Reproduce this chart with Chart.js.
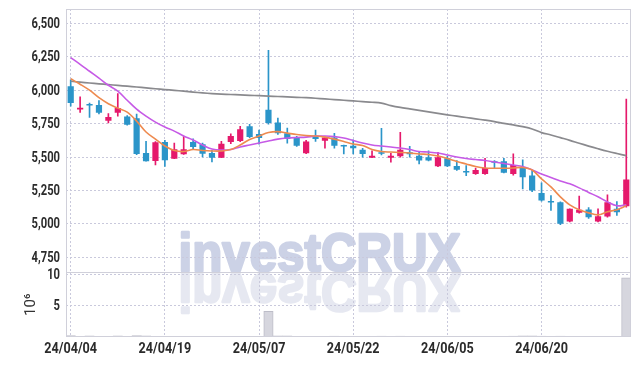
<!DOCTYPE html>
<html>
<head>
<meta charset="utf-8">
<title>investCRUX candle chart</title>
<script src="https://cdn.jsdelivr.net/npm/chart.js@4.4.1/dist/chart.umd.min.js"></script>
<style>
  html, body { margin: 0; padding: 0; background: #fff; }
  #wrap { width: 639px; height: 366px; }
</style>
</head>
<body>
<div id="wrap"><canvas id="stockChart" width="639" height="366"></canvas></div>
<script>
// trading days, 24/04/04 .. 24/07/03
const dates = [
  "24/04/04", "24/04/05", "24/04/08", "24/04/09", "24/04/11", "24/04/12", "24/04/15", "24/04/16", "24/04/17", "24/04/18",
  "24/04/19", "24/04/22", "24/04/23", "24/04/24", "24/04/25", "24/04/26", "24/04/29", "24/04/30", "24/05/02", "24/05/03",
  "24/05/07", "24/05/08", "24/05/09", "24/05/10", "24/05/13", "24/05/14", "24/05/16", "24/05/17", "24/05/20", "24/05/21",
  "24/05/22", "24/05/23", "24/05/24", "24/05/27", "24/05/28", "24/05/29", "24/05/30", "24/05/31", "24/06/03", "24/06/04",
  "24/06/05", "24/06/07", "24/06/10", "24/06/11", "24/06/12", "24/06/13", "24/06/14", "24/06/17", "24/06/18", "24/06/19",
  "24/06/20", "24/06/21", "24/06/24", "24/06/25", "24/06/26", "24/06/27", "24/06/28", "24/07/01", "24/07/02", "24/07/03",
];

const opens = [
  6030, 5856, 5890, 5890, 5771, 5831, 5804, 5791, 5530, 5470,
  5612, 5487, 5520, 5612, 5595, 5530, 5495, 5612, 5620, 5731,
  5672, 5853, 5759, 5677, 5647, 5528, 5659, 5622, 5647, 5582,
  5585, 5555, 5495, 5530, 5495, 5505, 5535, 5510, 5498, 5431,
  5490, 5433, 5388, 5373, 5373, 5462, 5468, 5373, 5418, 5361,
  5231, 5165, 5162, 5017, 5082, 5107, 5017, 5055, 5112, 5132,
];
const highs = [
  6077, 5950, 5903, 5923, 5826, 5975, 5810, 5821, 5617, 5615,
  5625, 5605, 5655, 5637, 5605, 5550, 5617, 5674, 5729, 5744,
  5702, 6298, 5791, 5717, 5655, 5625, 5702, 5650, 5677, 5590,
  5629, 5565, 5547, 5714, 5528, 5684, 5580, 5540, 5547, 5535,
  5505, 5473, 5436, 5418, 5490, 5473, 5490, 5523, 5478, 5403,
  5306, 5212, 5165, 5112, 5207, 5122, 5112, 5217, 5167, 5933,
];
const lows = [
  5881, 5834, 5796, 5823, 5756, 5805, 5738, 5517, 5468, 5440,
  5430, 5487, 5520, 5558, 5500, 5463, 5495, 5600, 5615, 5645,
  5597, 5746, 5670, 5604, 5580, 5525, 5617, 5567, 5567, 5523,
  5523, 5498, 5495, 5515, 5461, 5498, 5498, 5448, 5470, 5428,
  5428, 5400, 5361, 5370, 5370, 5418, 5380, 5365, 5261, 5240,
  5170, 5100, 4993, 5015, 5080, 5040, 5015, 5050, 5062, 5125,
];
const closes = [
  5905, 5868, 5885, 5831, 5799, 5866, 5741, 5523, 5468, 5610,
  5476, 5558, 5558, 5575, 5525, 5495, 5600, 5657, 5707, 5649,
  5642, 5754, 5677, 5634, 5585, 5617, 5634, 5647, 5585, 5578,
  5565, 5523, 5510, 5525, 5510, 5555, 5520, 5473, 5473, 5498,
  5431, 5405, 5384, 5403, 5418, 5457, 5383, 5440, 5349, 5249,
  5174, 5160, 5000, 5112, 5105, 5050, 5057, 5162, 5087, 5331,
];

// volume, millions of shares
const volumes = [
  0.22, 0.02, 0.18, 0.03, 0.02, 0.2, 0.04, 0.22, 0.18, 0.04,
  0.03, 0.03, 0.02, 0.02, 0.03, 0.02, 0.03, 0.02, 0.03, 0.04,
  0.06, 4.1, 0.2, 0.18, 0.04, 0.03, 0.03, 0.02, 0.16, 0.03,
  0.02, 0.02, 0.03, 0.15, 0.03, 0.15, 0.02, 0.02, 0.03, 0.02,
  0.03, 0.02, 0.02, 0.03, 0.03, 0.02, 0.04, 0.16, 0.2, 0.18,
  0.14, 0.03, 0.16, 0.03, 0.02, 0.03, 0.02, 0.04, 0.03, 9.45,
];

// moving averages
const maShort = [
  6086, 6045, 6000, 5944, 5899, 5866, 5836, 5769, 5687, 5634,
  5582, 5549, 5541, 5556, 5549, 5545, 5545, 5556, 5590, 5631,
  5657, 5683, 5690, 5679, 5668, 5661, 5657, 5649, 5634, 5616,
  5597, 5586, 5556, 5541, 5537, 5534, 5530, 5523, 5519, 5508,
  5489, 5467, 5448, 5429, 5418, 5416, 5416, 5418, 5422, 5403,
  5336, 5276, 5202, 5142, 5105, 5082, 5067, 5090, 5105, 5135,
];
const maMid = [
  6244, 6194, 6142, 6090, 6037, 5993, 5925, 5858, 5806, 5761,
  5724, 5694, 5657, 5627, 5590, 5560, 5552, 5556, 5575, 5590,
  5605, 5620, 5634, 5642, 5646, 5649, 5657, 5657, 5653, 5642,
  5623, 5605, 5590, 5582, 5575, 5567, 5556, 5541, 5537, 5530,
  5515, 5500, 5489, 5481, 5474, 5463, 5452, 5440, 5429, 5403,
  5373, 5347, 5321, 5299, 5269, 5235, 5202, 5164, 5135, 5142,
];
const maLong = [
  6067, 6060, 6054, 6048, 6042, 6036, 6030, 6024, 6018, 6011,
  6005, 5999, 5993, 5986, 5980, 5975, 5971, 5968, 5965, 5962,
  5959, 5956, 5953, 5950, 5947, 5944, 5940, 5935, 5930, 5925,
  5920, 5915, 5910, 5903, 5885, 5871, 5860, 5849, 5838, 5827,
  5816, 5806, 5796, 5786, 5776, 5765, 5752, 5740, 5727, 5710,
  5683, 5665, 5645, 5625, 5603, 5582, 5562, 5543, 5526, 5510,
];

const priceTicks = [4750, 5000, 5250, 5500, 5750, 6000, 6250, 6500];
const volTicks = [5, 10];

const UP = "#e5196b";
const DOWN = "#2b95c9";
const gridColor = "#c9c9dc";
const labelFont = "bold 14px Roboto, 'Liberation Sans', sans-serif";

const candleColors = opens.map((o, i) => (closes[i] > o ? UP : DOWN));

// narrow labels: draw text squeezed horizontally
function squeezedText(ctx, txt, x, y, sx, align) {
  ctx.save();
  ctx.translate(x, y);
  ctx.scale(sx, 1);
  ctx.textAlign = align;
  ctx.fillText(txt, 0, 0);
  ctx.restore();
}

// watermark, panel separator, frame and axis labels
const paneDecor = {
  id: "paneDecor",
  beforeDraw(chart) {
    const { ctx } = chart;
    const base = chart.scales.y.bottom;
    ctx.save();
    ctx.fillStyle = "#fff";
    ctx.fillRect(0, 0, chart.width, chart.height);
    ctx.font = "bold 54px 'Liberation Sans', Arial, sans-serif";
    const txt = "investCRUX";
    const w = ctx.measureText(txt).width;
    ctx.translate(chart.width / 2, base);
    ctx.scale(282 / w, 1);
    ctx.textAlign = "center";
    ctx.textBaseline = "alphabetic";
    ctx.lineJoin = "round";
    ctx.lineWidth = 2.5;
    ctx.fillStyle = ctx.strokeStyle = "#ccd2e6";
    ctx.strokeText(txt, 0, -1);
    ctx.fillText(txt, 0, -1);
    ctx.scale(1, -1);
    ctx.fillStyle = ctx.strokeStyle = "#e6e8f1";
    ctx.strokeText(txt, 0, -2);
    ctx.fillText(txt, 0, -2);
    ctx.restore();
  },
  afterDraw(chart) {
    const { ctx, chartArea: a, scales } = chart;
    const sep = Math.round(scales.y.bottom) + 0.5;
    ctx.save();
    ctx.strokeStyle = "#d0d0da";
    ctx.lineWidth = 1;
    ctx.strokeRect(a.left + 0.5, a.top + 0.5, a.width - 1, a.height - 1);
    ctx.beginPath();
    ctx.moveTo(a.left, sep);
    ctx.lineTo(a.right, sep);
    ctx.stroke();

    ctx.fillStyle = "#2b2b2b";
    ctx.font = labelFont;
    ctx.textBaseline = "middle";
    priceTicks.forEach((v) =>
      squeezedText(ctx, v.toLocaleString("en-US"), 60, scales.y.getPixelForValue(v) + 1, 0.8, "right")
    );
    volTicks.forEach((v) =>
      squeezedText(ctx, String(v), 60, scales.vol.getPixelForValue(v) + 1, 0.8, "right")
    );
    dates.forEach((d, i) => {
      if (i % 10 === 0) squeezedText(ctx, d, scales.x.getPixelForValue(i), 349, 0.9, "center");
    });
    ctx.restore();
  },
};

const ctx = document.getElementById("stockChart").getContext("2d");
new Chart(ctx, {
  type: "bar",
  data: {
    labels: dates,
    datasets: [
      {
        type: "line",
        label: "MA short",
        data: maShort,
        yAxisID: "y",
        borderColor: "#ee8a4f",
        borderWidth: 1.6,
        pointRadius: 0,
        tension: 0.35,
        order: 0,
      },
      {
        type: "line",
        label: "MA mid",
        data: maMid,
        yAxisID: "y",
        borderColor: "#c65ae6",
        borderWidth: 1.6,
        pointRadius: 0,
        tension: 0.35,
        order: 0,
      },
      {
        type: "line",
        label: "MA long",
        data: maLong,
        yAxisID: "y",
        borderColor: "#8a8a8e",
        borderWidth: 1.7,
        pointRadius: 0,
        tension: 0.35,
        order: 0,
      },
      {
        label: "body",
        data: opens.map((o, i) => [o, closes[i]]),
        yAxisID: "y",
        backgroundColor: candleColors,
        grouped: false,
        barPercentage: 0.66,
        categoryPercentage: 1,
        minBarLength: 1.5,
        order: 1,
      },
      {
        label: "wick",
        data: lows.map((l, i) => [l, highs[i]]),
        yAxisID: "y",
        backgroundColor: candleColors,
        grouped: false,
        barThickness: 1,
        order: 2,
      },
      {
        label: "volume",
        data: volumes,
        yAxisID: "vol",
        backgroundColor: "#d6d6de",
        borderColor: "#bdbdc8",
        borderWidth: 1,
        grouped: false,
        barPercentage: 1,
        categoryPercentage: 1,
        order: 3,
      },
    ],
  },
  options: {
    responsive: false,
    animation: false,
    layout: { padding: { top: 9, right: 8, left: 0, bottom: 0 } },
    plugins: {
      legend: { display: false },
      tooltip: { enabled: false },
    },
    scales: {
      x: {
        offset: true,
        grid: {
          offset: false,
          drawTicks: false,
          color: (c) => (c.index % 10 === 0 ? gridColor : "rgba(0,0,0,0)"),
        },
        border: { display: false, dash: [2, 2] },
        ticks: { display: false, autoSkip: false },
        afterFit: (s) => {
          s.height = 29;
        },
      },
      vol: {
        type: "linear",
        position: "left",
        stack: "panes",
        stackWeight: 1,
        min: 0,
        max: 10.3,
        bounds: "data",
        grid: { color: gridColor, drawTicks: false },
        border: { display: false, dash: [2, 2] },
        ticks: { display: false },
        afterBuildTicks: (s) => {
          s.ticks = volTicks.map((v) => ({ value: v }));
        },
        title: {
          display: true,
          text: "10⁶",
          color: "#333",
          font: { family: "Roboto, 'Liberation Sans', sans-serif", size: 15 },
          padding: { top: 22, bottom: 0 },
        },
        afterFit: (s) => {
          s.width = 66;
        },
      },
      y: {
        type: "linear",
        position: "left",
        stack: "panes",
        stackWeight: 4.08,
        min: 4636,
        max: 6608,
        bounds: "data",
        grid: { color: gridColor, drawTicks: false },
        border: { display: false, dash: [2, 2] },
        ticks: { display: false },
        afterBuildTicks: (s) => {
          s.ticks = priceTicks.map((v) => ({ value: v }));
        },
        afterFit: (s) => {
          s.width = 66;
        },
      },
    },
  },
  plugins: [paneDecor],
});
</script>
</body>
</html>
